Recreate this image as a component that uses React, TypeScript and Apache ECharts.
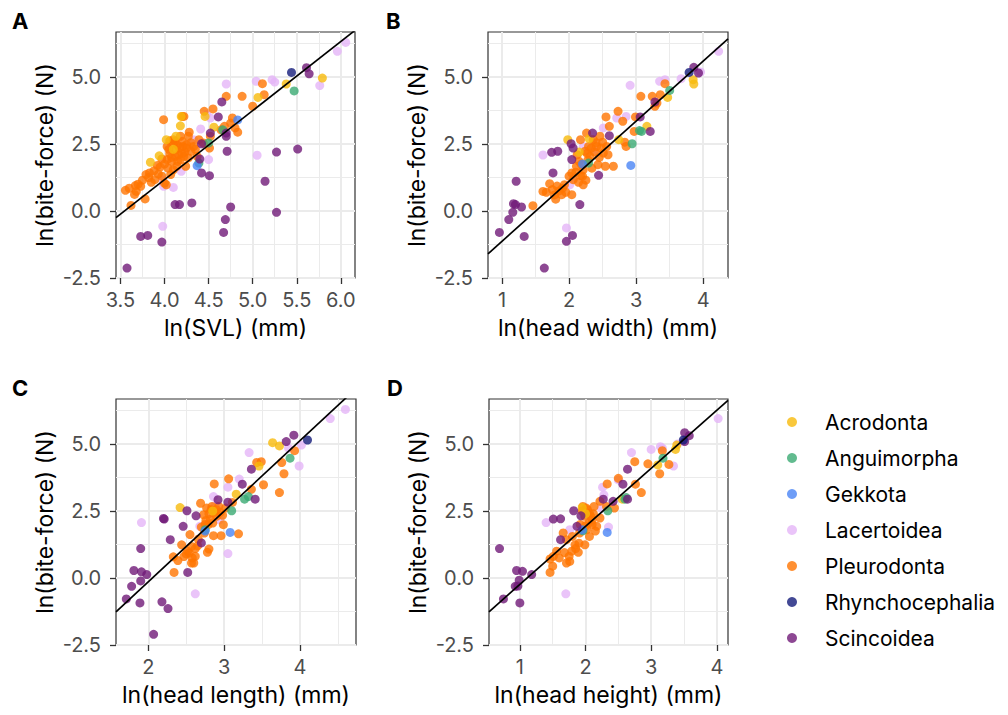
import React, { useEffect, useRef } from "react";
import * as echarts from "echarts";

const FONT = 'Inter, "Liberation Sans", Arial, sans-serif';

const GROUPS = ["Acrodonta", "Anguimorpha", "Gekkota", "Lacertoidea", "Pleurodonta", "Rhynchocephalia", "Scincoidea"];
const GROUP_COLORS = ["#F7BA0B", "#3BAA73", "#4A84F5", "#E5B5F8", "#FF7400", "#141C7A", "#701A78"];
// drawing order (back to front)
const DRAW_ORDER = ["Lacertoidea", "Pleurodonta", "Acrodonta", "Anguimorpha", "Gekkota", "Scincoidea", "Rhynchocephalia"];

const Y_TICKS = [-2.5, 0, 2.5, 5];
const Y_MINOR = [-1.25, 1.25, 3.75, 6.25];

// ---------- Panel A: ln(SVL) ----------
const A_Acrodonta = [[3.84,1.82],[3.94,2.06],[4.02,2.66],[4.13,2.79],[4.18,3.18],[4.19,3.53],[4.46,3.53],[4.56,3.13],[5.06,4.24],[5.38,4.74],[5.79,4.96],[4.1,2.3]];
const A_Anguimorpha = [[5.47,4.48],[4.66,3.03],[4.5,2.54],[4.39,1.79]];
const A_Gekkota = [[4.83,3.4],[4.37,1.69]];
const A_Lacertoidea = [[6.055,6.29],[5.96,5.96],[5.76,4.68],[5.22,4.9],[5.25,4.81],[5.04,4.84],[4.7,4.74],[5.05,2.08],[4.41,3.06],[4.5,1.92],[3.99,0.92],[4.1,0.88],[3.98,-0.57],[4.19,1.48],[4.52,3.47],[3.98,1.17],[4.33,2.66],[4.48,3.6]];
const A_Pleurodonta = [[3.557,0.77],[3.62,0.21],[3.67,0.95],[3.68,0.73],[3.66,0.62],[3.73,0.92],[3.78,0.45],[3.79,1.36],[3.83,1.42],[3.85,1.07],[3.89,1.17],[3.95,1.64],[3.97,1.94],[3.99,3.41],[4.0,1.04],[4.03,2.41],[4.04,1.6],[4.06,2.14],[4.08,1.85],[4.1,2.54],[4.12,2.04],[4.07,1.36],[4.14,1.67],[4.1,2.66],[4.18,2.79],[4.2,3.53],[4.22,3.53],[4.21,2.41],[4.22,2.04],[4.25,2.48],[4.27,2.79],[4.3,2.23],[4.33,2.41],[4.37,2.04],[4.39,2.66],[4.18,1.92],[4.24,1.67],[4.03,1.92],[4.1,1.54],[4.16,2.1],[4.27,1.98],[4.28,2.94],[4.45,3.72],[4.55,3.81],[4.52,2.79],[4.51,2.35],[4.44,2.54],[4.64,3.03],[4.68,3.16],[4.7,4.28],[4.75,3.28],[4.77,3.47],[4.8,3.1],[4.83,2.94],[4.88,4.28],[5.0,3.91],[5.11,4.75],[5.13,4.34],[4.13,2.3],[4.2,2.6],[4.15,2.45],[4.06,2.62],[4.23,2.2],[3.93,1.38],[3.97,1.3],[4.02,0.98],[3.6,0.85],[3.7,1.0],[3.75,1.15],[3.82,1.25],[3.88,1.5],[3.92,1.7],[4.0,1.75],[4.05,2.3],[4.08,2.0],[4.12,2.6],[4.15,1.85],[4.17,2.35],[4.25,2.35],[4.3,2.55],[4.35,2.3],[4.2,2.15]];
const A_Rhynchocephalia = [[5.44,5.17]];
const A_Scincoidea = [[3.575,-2.13],[3.73,-0.95],[3.81,-0.91],[3.97,-1.16],[4.12,0.24],[4.17,0.24],[4.31,0.3],[4.4,1.94],[4.42,2.51],[4.42,1.42],[4.51,1.32],[4.52,2.91],[4.61,3.51],[4.65,4.07],[4.7,2.91],[4.7,2.79],[4.71,2.23],[4.69,-0.32],[4.67,-0.8],[4.75,0.15],[5.14,1.11],[5.27,2.2],[5.27,-0.05],[5.51,2.31],[5.61,5.35],[5.64,5.12]];
const A_Fit = [[3.45,-0.25],[6.16,6.74]];

// ---------- Panel B: ln(head width) ----------
const B_Acrodonta = [[1.98,2.66],[2.74,2.66],[3.16,3.16],[3.47,4.24],[3.86,4.74],[3.85,4.9],[2.15,2.2],[2.3,2.7]];
const B_Anguimorpha = [[2.29,1.79],[2.94,2.51],[3.05,3.0],[3.08,2.97],[3.5,4.5]];
const B_Gekkota = [[2.92,1.7],[2.2,1.75]];
const B_Lacertoidea = [[4.23,5.96],[3.67,4.94],[3.35,4.84],[3.43,4.9],[2.91,4.69],[1.61,2.09],[1.96,-0.63],[2.71,3.47],[2.85,3.53],[2.51,3.1],[2.21,2.41],[2.07,1.23],[2.37,2.23],[2.01,0.98],[3.96,5.19]];
const B_Pleurodonta = [[1.46,0.2],[1.61,0.73],[1.66,0.7],[1.71,1.02],[1.75,0.8],[1.8,0.44],[1.82,0.93],[1.89,0.61],[1.93,0.98],[2.04,0.61],[2.04,1.42],[2.06,1.17],[2.11,1.67],[2.14,1.07],[2.17,1.32],[2.21,0.98],[2.12,2.1],[2.17,2.66],[2.24,2.23],[2.29,2.41],[2.31,2.04],[2.34,1.6],[2.36,2.66],[2.41,2.41],[2.46,2.79],[2.5,2.57],[2.51,2.16],[2.43,1.73],[2.54,1.67],[2.56,2.41],[2.6,3.16],[2.58,2.1],[2.66,1.67],[2.55,3.51],[2.73,3.72],[2.8,3.35],[2.85,2.41],[2.83,2.57],[2.99,3.51],[2.97,2.97],[3.07,4.28],[3.24,4.28],[3.31,4.03],[3.36,4.34],[3.28,3.91],[3.43,4.75],[2.26,2.91],[2.21,1.54],[2.2,1.3],[2.28,1.9],[2.38,2.2],[2.45,2.0],[2.15,1.85],[2.25,1.15],[1.85,0.75],[1.95,0.7],[2.0,1.3],[2.1,1.45],[2.18,1.75],[2.27,2.15],[2.33,2.35],[2.4,2.55],[2.48,2.35],[1.78,0.6],[1.9,0.85]];
const B_Rhynchocephalia = [[3.79,5.17]];
const B_Scincoidea = [[0.96,-0.8],[1.1,-0.32],[1.16,-0.05],[1.17,0.27],[1.2,0.24],[1.29,0.15],[1.21,1.11],[1.33,-0.95],[1.63,-2.13],[1.96,-1.13],[2.05,-0.91],[1.74,2.19],[1.83,2.23],[1.76,1.42],[2.03,2.51],[2.06,2.35],[2.04,1.92],[2.16,0.24],[2.35,2.91],[2.44,1.33],[2.6,2.81],[3.06,3.51],[3.21,2.97],[3.28,4.07],[3.86,5.36],[3.93,5.15]];
const B_Fit = [[0.79,-1.6],[4.37,6.42]];

// ---------- Panel C: ln(head length) ----------
const C_Acrodonta = [[2.42,2.63],[3.64,5.05],[3.73,4.93],[3.46,4.18],[3.16,3.13],[2.85,2.5]];
const C_Anguimorpha = [[3.1,2.51],[3.27,2.94],[3.32,3.04],[3.87,4.47],[2.75,1.8]];
const C_Gekkota = [[3.08,1.7],[2.75,1.75]];
const C_Lacertoidea = [[4.6,6.29],[4.4,5.95],[4.02,4.96],[3.99,4.18],[3.33,4.68],[3.2,3.69],[3.05,3.39],[2.86,3.04],[1.91,2.07],[2.62,-0.59],[3.05,0.91],[2.94,2.17],[2.68,1.93],[2.88,2.71],[3.85,4.85]];
const C_Pleurodonta = [[2.34,0.21],[2.33,0.79],[2.39,0.65],[2.44,1.24],[2.54,0.93],[2.57,1.18],[2.62,0.81],[2.6,0.56],[2.5,0.9],[2.55,1.62],[2.57,0.56],[2.7,1.9],[2.74,1.68],[2.78,0.96],[2.8,1.08],[2.79,1.99],[2.73,2.36],[2.77,2.61],[2.84,2.67],[2.88,2.45],[2.9,2.3],[2.98,2.34],[2.99,1.99],[2.86,1.58],[2.96,1.58],[2.87,3.51],[2.69,2.79],[3.06,3.7],[3.02,2.61],[3.11,2.82],[3.19,1.65],[3.36,3.31],[3.52,3.48],[3.43,4.31],[3.49,4.34],[3.76,4.31],[3.79,3.89],[3.73,3.19],[3.93,4.75],[2.93,2.67],[2.82,2.2],[2.85,2.05],[2.76,2.15],[2.66,1.45],[2.52,1.0],[2.62,1.1],[2.95,2.45],[2.8,2.4],[2.83,2.55],[2.9,2.55],[2.75,2.0],[2.65,1.2],[2.58,0.75],[2.47,0.8]];
const C_Rhynchocephalia = [[4.1,5.15]];
const C_Scincoidea = [[1.71,-0.78],[1.78,-0.31],[1.81,0.28],[1.9,1.1],[1.91,0.23],[1.9,-0.11],[1.98,0.13],[1.89,-0.93],[2.18,-0.89],[2.26,-1.14],[2.07,-2.1],[2.21,2.2],[2.29,1.43],[2.46,1.93],[2.51,2.51],[2.63,2.32],[2.52,0.21],[2.7,1.31],[2.92,2.92],[3.05,2.83],[3.24,3.5],[3.36,4.06],[3.41,2.94],[3.82,5.09],[3.92,5.33],[2.2,2.22]];
const C_Fit = [[1.574,-1.26],[4.74,7.07]];

// ---------- Panel D: ln(head height) ----------
const D_Acrodonta = [[1.95,2.63],[3.37,4.8],[3.39,4.96],[3.1,4.22],[2.56,2.94],[2.0,2.4]];
const D_Anguimorpha = [[1.96,1.76],[2.34,2.51],[2.6,2.94],[3.18,4.47],[2.62,3.0]];
const D_Gekkota = [[2.33,1.7],[1.95,1.8]];
const D_Lacertoidea = [[4.02,5.95],[3.34,4.18],[3.14,4.9],[3.17,4.85],[3.0,4.8],[2.7,4.68],[2.26,3.39],[2.5,3.66],[1.4,2.07],[1.7,-0.59],[1.76,1.8],[2.24,2.61],[2.28,3.1],[2.35,1.9],[3.4,5.0]];
const D_Pleurodonta = [[1.46,0.21],[1.5,0.44],[1.46,0.71],[1.51,0.81],[1.56,1.0],[1.66,1.68],[1.71,1.43],[1.75,0.81],[1.76,0.62],[1.71,0.56],[1.79,1.0],[1.84,1.24],[1.91,1.68],[1.89,0.96],[1.99,1.24],[2.02,1.8],[2.06,1.55],[2.01,2.61],[2.06,2.42],[2.1,2.17],[2.17,1.93],[1.99,2.3],[1.96,2.67],[2.13,2.67],[2.22,2.86],[2.32,2.67],[2.44,2.61],[2.33,3.51],[2.5,3.72],[2.76,3.5],[2.85,3.19],[2.75,4.34],[2.95,4.26],[3.17,4.75],[3.13,3.89],[3.27,4.24],[2.22,2.24],[2.05,2.05],[2.12,2.4],[1.92,2.0],[1.8,1.55],[1.68,0.95],[2.0,1.95],[2.15,1.75],[1.95,2.5],[2.03,2.55],[2.08,2.3],[1.9,1.3],[1.85,1.1],[1.6,0.75],[2.1,2.0]];
const D_Rhynchocephalia = [[3.49,5.15]];
const D_Scincoidea = [[0.69,1.1],[0.75,-0.78],[0.93,-0.31],[0.95,0.28],[1.04,0.25],[0.99,-0.08],[1.0,-0.93],[1.18,0.13],[1.51,2.2],[1.62,2.21],[1.62,1.43],[1.82,2.51],[1.87,1.93],[1.93,2.32],[2.27,2.94],[2.42,2.86],[2.57,3.5],[2.64,4.06],[2.64,2.94],[3.51,5.42],[3.58,5.31],[3.51,5.09],[0.97,-0.3]];
const D_Fit = [[0.53,-1.26],[4.17,6.63]];

const PANELS = [
  {
    label: "A", xName: "ln(SVL) (mm)", xMin: 3.45, xMax: 6.16,
    xTicks: [3.5, 4, 4.5, 5, 5.5, 6], xMinor: [3.75, 4.25, 4.75, 5.25, 5.75], decimals: 1,
    grid: { left: 116, top: 32, width: 239, height: 246 }, labelPos: [12, 21],
    groups: { Acrodonta: A_Acrodonta, Anguimorpha: A_Anguimorpha, Gekkota: A_Gekkota, Lacertoidea: A_Lacertoidea, Pleurodonta: A_Pleurodonta, Rhynchocephalia: A_Rhynchocephalia, Scincoidea: A_Scincoidea },
    fit: A_Fit,
  },
  {
    label: "B", xName: "ln(head width) (mm)", xMin: 0.79, xMax: 4.37,
    xTicks: [1, 2, 3, 4], xMinor: [1.5, 2.5, 3.5], decimals: 0,
    grid: { left: 488, top: 32, width: 240, height: 246 }, labelPos: [386, 21],
    groups: { Acrodonta: B_Acrodonta, Anguimorpha: B_Anguimorpha, Gekkota: B_Gekkota, Lacertoidea: B_Lacertoidea, Pleurodonta: B_Pleurodonta, Rhynchocephalia: B_Rhynchocephalia, Scincoidea: B_Scincoidea },
    fit: B_Fit,
  },
  {
    label: "C", xName: "ln(head length) (mm)", xMin: 1.574, xMax: 4.74,
    xTicks: [2, 3, 4], xMinor: [2.5, 3.5, 4.5], decimals: 0,
    grid: { left: 116, top: 399, width: 240, height: 246 }, labelPos: [12, 388],
    groups: { Acrodonta: C_Acrodonta, Anguimorpha: C_Anguimorpha, Gekkota: C_Gekkota, Lacertoidea: C_Lacertoidea, Pleurodonta: C_Pleurodonta, Rhynchocephalia: C_Rhynchocephalia, Scincoidea: C_Scincoidea },
    fit: C_Fit,
  },
  {
    label: "D", xName: "ln(head height) (mm)", xMin: 0.53, xMax: 4.17,
    xTicks: [1, 2, 3, 4], xMinor: [1.5, 2.5, 3.5], decimals: 0,
    grid: { left: 489, top: 399, width: 239, height: 246 }, labelPos: [387, 388],
    groups: { Acrodonta: D_Acrodonta, Anguimorpha: D_Anguimorpha, Gekkota: D_Gekkota, Lacertoidea: D_Lacertoidea, Pleurodonta: D_Pleurodonta, Rhynchocephalia: D_Rhynchocephalia, Scincoidea: D_Scincoidea },
    fit: D_Fit,
  },
];

function buildOption() {
  const grids: any[] = [];
  const xAxes: any[] = [];
  const yAxes: any[] = [];
  const series: any[] = [];
  const graphics: any[] = [];

  PANELS.forEach((p, i) => {
    grids.push({
      ...p.grid, show: true, backgroundColor: "#ffffff",
      borderColor: "#333333", borderWidth: 1.2, containLabel: false,
    });
    xAxes.push({
      type: "value", gridIndex: i, min: p.xMin, max: p.xMax, position: "bottom",
      axisLine: { show: false, onZero: false },
      axisTick: { show: true, length: 6, lineStyle: { color: "#333333", width: 1.3 }, customValues: p.xTicks },
      axisLabel: {
        show: true, customValues: p.xTicks, margin: 12, color: "#4D4D4D", fontSize: 20, fontFamily: FONT,
        formatter: (v: number) => v.toFixed(p.decimals),
      },
      splitLine: { show: true, lineStyle: { color: "#EBEBEB", width: 2 } },
      name: p.xName, nameLocation: "middle", nameGap: 38,
      nameTextStyle: { color: "#000000", fontSize: 23, fontFamily: FONT },
    });
    xAxes.push({
      type: "value", gridIndex: i, min: p.xMin, max: p.xMax, position: "bottom",
      axisLine: { show: false, onZero: false },
      axisTick: { show: false, customValues: p.xMinor },
      axisLabel: { show: false },
      splitLine: { show: true, lineStyle: { color: "#EBEBEB", width: 1 } },
    });
    yAxes.push({
      type: "value", gridIndex: i, min: -2.5, max: 6.68, position: "left",
      axisLine: { show: false, onZero: false },
      axisTick: { show: true, length: 6, lineStyle: { color: "#333333", width: 1.3 }, customValues: Y_TICKS },
      axisLabel: {
        show: true, customValues: Y_TICKS, margin: 15, color: "#4D4D4D", fontSize: 20, fontFamily: FONT,
        formatter: (v: number) => v.toFixed(1),
      },
      splitLine: { show: true, lineStyle: { color: "#EBEBEB", width: 2 } },
      name: "ln(bite-force) (N)", nameLocation: "middle", nameGap: 60,
      nameTextStyle: { color: "#000000", fontSize: 23, fontFamily: FONT },
    });
    yAxes.push({
      type: "value", gridIndex: i, min: -2.5, max: 6.68, position: "left",
      axisLine: { show: false, onZero: false },
      axisTick: { show: false, customValues: Y_MINOR },
      axisLabel: { show: false },
      splitLine: { show: true, lineStyle: { color: "#EBEBEB", width: 1 } },
    });

    DRAW_ORDER.forEach((g) => {
      const ci = GROUPS.indexOf(g);
      series.push({
        type: "scatter", name: g, xAxisIndex: i * 2, yAxisIndex: i * 2,
        data: (p.groups as any)[g], symbol: "circle", symbolSize: 9,
        itemStyle: { color: GROUP_COLORS[ci], opacity: 0.8 },
        z: 3, silent: true,
      });
    });
    series.push({
      type: "line", name: "fit" + p.label, xAxisIndex: i * 2, yAxisIndex: i * 2,
      data: p.fit, symbol: "none", clip: true,
      lineStyle: { color: "#000000", width: 1.7 }, z: 5, silent: true,
    });

    graphics.push({
      type: "text", x: p.labelPos[0], y: p.labelPos[1],
      style: { text: p.label, fontSize: 22, fontWeight: "bold", fontFamily: FONT, fill: "#000000", verticalAlign: "middle", align: "left" },
    });
  });

  return {
    animation: false,
    backgroundColor: "#ffffff",
    grid: grids,
    xAxis: xAxes,
    yAxis: yAxes,
    series,
    graphic: graphics,
    legend: {
      data: GROUPS.map((name) => ({ name, icon: "circle" })),
      orient: "vertical", left: 782, top: 406,
      itemWidth: 10, itemHeight: 10, itemGap: 14,
      selectedMode: false,
      textStyle: { fontSize: 21, color: "#000000", fontFamily: FONT, padding: [0, 0, 0, 23], lineHeight: 22 },
    },
  };
}

export default function App() {
  const ref = useRef<HTMLDivElement>(null);
  useEffect(() => {
    if (!ref.current) return;
    const chart = echarts.init(ref.current, undefined, { renderer: "svg" });
    chart.setOption(buildOption());
    return () => chart.dispose();
  }, []);
  return (
    <div
      ref={ref}
      style={{ position: "absolute", left: 0, top: 0, width: 1008, height: 715, background: "#fff" }}
    />
  );
}
